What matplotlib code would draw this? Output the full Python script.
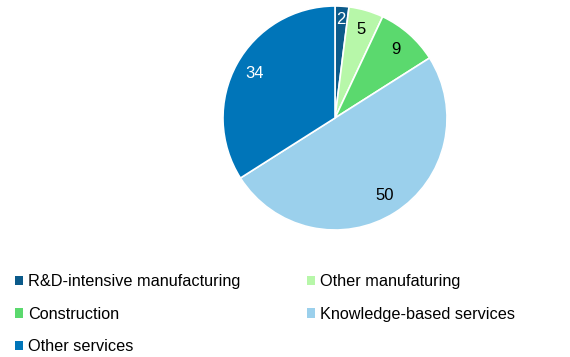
import matplotlib.pyplot as plt
from matplotlib.patches import Patch

plt.rcParams['font.family'] = ['Liberation Sans', 'DejaVu Sans']

labels = ['R&D-intensive manufacturing', 'Other manufaturing', 'Construction',
          'Knowledge-based services', 'Other services']
values = [2, 5, 9, 50, 34]
colors = ['#0b5a8a', '#b7f7a9', '#5bd96e', '#9bd0ec', '#0075b9']
text_colors = ['white', 'black', 'black', 'black', 'white']

fig = plt.figure(figsize=(5.7, 3.57), dpi=100)
ax = fig.add_axes([(335 - 112) / 570, (357 - 230) / 357, 224 / 570, 224 / 357])

wedges, texts = ax.pie(values, colors=colors, startangle=90, counterclock=False,
                       labels=[str(v) for v in values], labeldistance=0.82,
                       wedgeprops=dict(edgecolor='white', linewidth=1.2))
for t, c in zip(texts, text_colors):
    t.set_color(c)
    t.set_fontsize(12)
    t.set_ha('center')
    t.set_va('center')
# tiny slice: push its label a little further out
x, y = texts[0].get_position()
texts[0].set_position((x * 1.08, y * 1.08))

ax.set_xlim(-1, 1)
ax.set_ylim(-1, 1)
ax.set_aspect('equal')

# legend is filled column-wise, so reorder for row-wise reading
order = [0, 2, 4, 1, 3]
handles = [Patch(facecolor=colors[i], edgecolor='none') for i in order]
fig.legend(handles, [labels[i] for i in order], ncol=2, frameon=False,
           loc='upper left', bbox_to_anchor=(0.015, 0.25), fontsize=11.7,
           handlelength=0.5, handleheight=0.5, handletextpad=0.3,
           columnspacing=4.1, labelspacing=1.07, borderaxespad=0)

fig.savefig('out.png', dpi=100)
